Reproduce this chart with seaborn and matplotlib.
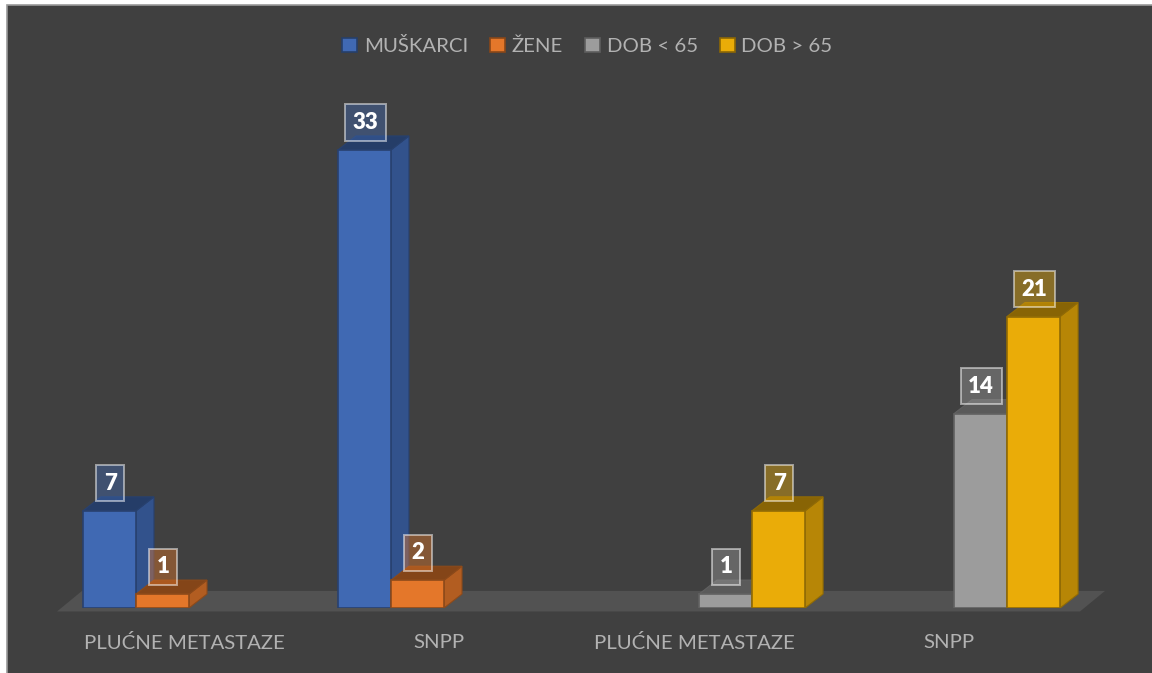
import numpy as np
import pandas as pd
import matplotlib
matplotlib.use('Agg')
import matplotlib.pyplot as plt
import matplotlib.colors as mcolors
from matplotlib.patches import Polygon
from matplotlib.transforms import ScaledTranslation
import seaborn as sns

categories = ['PLUĆNE METASTAZE', 'SNPP', 'PLUĆNE METASTAZE ', 'SNPP ']
series_names = ['MUŠKARCI', 'ŽENE', 'DOB < 65', 'DOB > 65']
colors = ['#4069B3', '#E4772A', '#9C9C9C', '#EAAC08']

cat_col = [categories[0], categories[0], categories[1], categories[1],
           categories[2], categories[2], categories[3], categories[3]]
series_col = [series_names[0], series_names[1], series_names[0], series_names[1],
              series_names[2], series_names[3], series_names[2], series_names[3]]
values = [7, 1, 33, 2, 1, 7, 14, 21]

BG = '#404040'
W, H = 1152, 673


def darker(c, f):
    return tuple(np.array(mcolors.to_rgb(c)) * f)


def main():
    sns.set_theme(style='dark', rc={'axes.facecolor': BG, 'figure.facecolor': 'white'})
    plt.rcParams['font.family'] = ['Lato', 'DejaVu Sans']

    df = pd.DataFrame({'kat': cat_col, 'serija': series_col, 'n': values})

    fig = plt.figure(figsize=(W / 100, H / 100), dpi=100)
    # dark panel behind everything, white strip left and above
    panel = plt.Rectangle((7 / W, -0.01), 1.02, 1.01 - 5 / H, transform=fig.transFigure,
                          fc=BG, ec='#9a9a9a', lw=1.2, zorder=-1)
    fig.add_artist(panel)
    ax = fig.add_axes([7 / W, 65 / H, 1 - 7 / W, 603 / H])
    ax.patch.set_alpha(0)

    sns.barplot(ax=ax, data=df, x='kat', y='n', hue='serija', order=categories,
                hue_order=series_names, palette=colors, width=0.832, gap=0,
                saturation=1, legend=True)

    # px -> data
    ax.set_xlim((7 - 189) / 255, (1152 - 189) / 255)
    ax.set_ylim(0, 603 / 13.88)
    dx = 18 / 255
    dy = 14 / 13.88

    # floor
    fl = (82 - 189) / 255
    fr = (1105 - 189) / 255
    ax.add_patch(Polygon([((57 - 189) / 255, -0.25), ((1080 - 189) / 255, -0.25),
                          (fr, 1.23), (fl, 1.23)], closed=True, fc='#525252', ec='none',
                         clip_on=False, zorder=0.5))

    bars = [p for p in ax.patches if isinstance(p, plt.Rectangle) and p.get_height() > 0]
    bars = [b for b in bars if b.get_width() < 1]
    for b in bars:
        c = b.get_facecolor()
        x0, x1 = b.get_x(), b.get_x() + b.get_width()
        h = b.get_height()
        edge = darker(c, 0.62)
        z = 3 + x0 * 0.1
        b.set_edgecolor(edge)
        b.set_linewidth(1.2)
        b.set_zorder(z + 0.02)
        ax.add_patch(Polygon([(x1, 0), (x1 + dx, dy), (x1 + dx, h + dy), (x1, h)], closed=True,
                             fc=darker(c, 0.78), ec=edge, lw=0.8, zorder=z))
        ax.add_patch(Polygon([(x0, h), (x1, h), (x1 + dx, h + dy), (x0 + dx, h + dy)], closed=True,
                             fc=darker(c, 0.58), ec=edge, lw=0.8, zorder=z + 0.01))
        # value label, box tinted with the bar colour
        ax.annotate(f'{h:.0f}', ((x0 + x1) / 2, h), xytext=(0.5, 27.5 * 0.72),
                    textcoords='offset points', ha='center', va='center',
                    color='white', fontsize=16, fontweight='heavy', zorder=10,
                    bbox=dict(boxstyle='square,pad=0.34', fc=mcolors.to_rgba(c, 0.42),
                              ec=(1, 1, 1, 0.5), lw=1.4))

    ax.set_xticks(range(len(categories)))
    ax.set_xticklabels([c.strip() for c in categories], color='#B2B2B2', fontsize=14.7)
    ax.tick_params(axis='x', length=0, pad=19)
    # category labels sit a little left of the group centre
    shift = ScaledTranslation(-5 / 100, 0, fig.dpi_scale_trans)
    for lab in ax.get_xticklabels():
        lab.set_transform(lab.get_transform() + shift)
    ax.set_yticks([])
    ax.set(xlabel='', ylabel='')
    ax.grid(False)
    sns.despine(ax=ax, left=True, bottom=True, top=True, right=True)

    sns.move_legend(ax, 'center', bbox_to_anchor=(587.5 / W, 1 - 46 / H),
                    bbox_transform=fig.transFigure, ncol=4, frameon=False, title=None,
                    fontsize=14.7, labelcolor='#B2B2B2', handlelength=0.72, handleheight=0.72,
                    handletextpad=0.32, columnspacing=1.1)
    for h, c in zip(ax.get_legend().legend_handles, colors):
        h.set_edgecolor(darker(c, 0.6))
        h.set_linewidth(1.2)

    fig.savefig('out.png', dpi=100)


if __name__ == "__main__":
    main()
